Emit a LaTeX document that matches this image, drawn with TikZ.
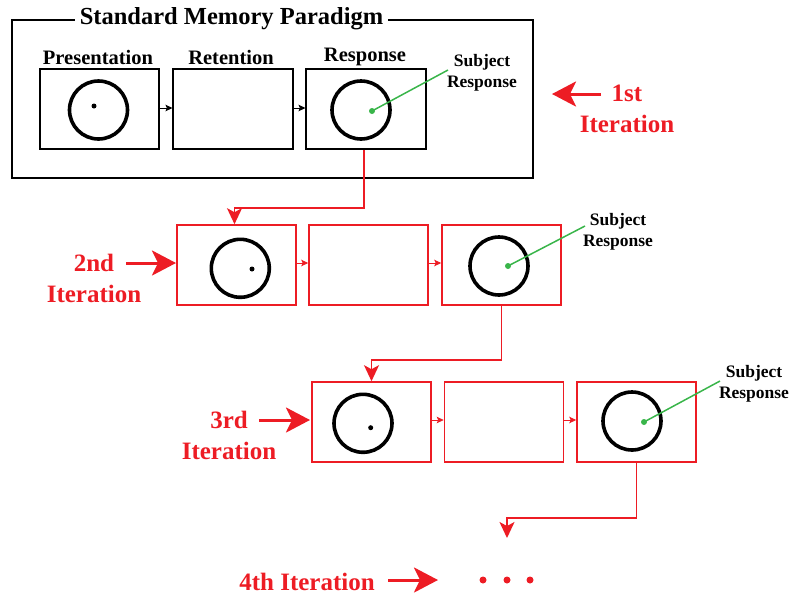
\documentclass[tikz,border=0pt]{standalone}
\usepackage{fontspec}
\setmainfont{Liberation Serif}
\usetikzlibrary{arrows.meta,calc}
\definecolor{myred}{RGB}{237,28,36}
\definecolor{mygreen}{RGB}{57,181,74}
\tikzset{
  bbox/.style={draw=black,line width=1.6pt,minimum width=119.5pt,minimum height=80pt,inner sep=0pt},
  rbox/.style={draw=myred,line width=1.6pt,minimum width=119pt,minimum height=80pt,inner sep=0pt},
  ring/.style={circle,draw=black,line width=3.6pt,minimum size=58pt,inner sep=0pt},
  dotb/.style={circle,fill=black,minimum size=5pt,inner sep=0pt},
  dotg/.style={circle,fill=mygreen,minimum size=6pt,inner sep=0pt},
  lbl/.style={font=\fontsize{20.5}{22}\selectfont\bfseries,inner sep=0pt},
  subj/.style={font=\fontsize{17.5}{21.5}\selectfont\bfseries,align=center,inner sep=0pt},
  iter/.style={font=\fontsize{25}{31}\selectfont\bfseries,text=myred,align=center,inner sep=0pt},
  smallarr/.style={line width=0.8pt,-{Stealth[length=7pt,width=6.5pt,inset=1.5pt]}},
  redconn/.style={draw=myred,line width=1.6pt,-{Stealth[length=16pt,width=15pt,inset=4pt]}},
  bigarr/.style={draw=myred,line width=3pt,-{Stealth[length=24pt,width=25pt,inset=6pt]}},
  gline/.style={draw=mygreen,line width=1.5pt}
}
\begin{document}
\begin{tikzpicture}[x=1pt,y=-1pt]
\useasboundingbox (0,0) rectangle (792,598);
% outer frame
\node[draw=black,line width=1.8pt,minimum width=521pt,minimum height=158pt,inner sep=0pt] (frame) at (272.5,99) {};
\node[lbl,font=\fontsize{24.5}{26}\selectfont\bfseries,fill=white,inner xsep=5pt,inner ysep=2pt] (title) at (231.5,19) {Standard Memory Paradigm};
% row 1
\node[bbox] (P1) at (99.5,109) {};
\node[bbox] (R1) at (233,109) {};
\node[bbox] (S1) at (366,109) {};
\node[lbl] (lP) at (98,57) {Presentation};
\node[lbl] (lR) at (231,57) {Retention};
\node[lbl] (lS) at (365,57) {Response};
\node[ring] (c1a) at (98.5,110) {};
\node[dotb] (d1a) at (94,106) {};
\node[ring] (c1b) at (361,110) {};
\node[dotg] (d1b) at (372,111) {};
\node[subj] (s1) at (482,73) {Subject\\Response};
\draw[gline] (d1b.center) -- (448,70);
\draw[smallarr] (P1.east |- 0,108) -- (R1.west |- 0,108);
\draw[smallarr] (R1.east |- 0,108) -- (S1.west |- 0,108);
\node[iter] (it1) at (627,109) {1st\\Iteration};
\draw[bigarr] (601,94) -- (552,94);
% row 2
\node[rbox] (P2) at (236.5,265) {};
\node[rbox] (R2) at (368.5,265) {};
\node[rbox] (S2) at (501.5,265) {};
\node[ring] (c2a) at (240.3,268.3) {};
\node[dotb] (d2a) at (252,269) {};
\node[ring] (c2b) at (499,266) {};
\node[dotg] (d2b) at (508,266) {};
\node[subj] (s2) at (618,232) {Subject\\Response};
\draw[gline] (d2b.center) -- (585,226);
\draw[smallarr,draw=myred] (P2.east |- 0,263) -- (R2.west |- 0,263);
\draw[smallarr,draw=myred] (R2.east |- 0,263) -- (S2.west |- 0,263);
\node[iter] (it2) at (94,278) {2nd\\Iteration};
\draw[bigarr] (126,263) -- (176,263);
\draw[redconn] ([xshift=-2pt]S1.south) -- ++(0,58) -| ([xshift=-2pt]P2.north);
% row 3
\node[rbox] (P3) at (371.5,422) {};
\node[rbox] (R3) at (504,422) {};
\node[rbox] (S3) at (636.5,422) {};
\node[ring] (c3a) at (363,423.3) {};
\node[dotb] (d3a) at (370.7,427.7) {};
\node[ring] (c3b) at (632,421) {};
\node[dotg] (d3b) at (644,422) {};
\node[subj] (s3) at (754,384) {Subject\\Response};
\draw[gline] (d3b.center) -- (720,381);
\draw[smallarr,draw=myred] (P3.east |- 0,420) -- (R3.west |- 0,420);
\draw[smallarr,draw=myred] (R3.east |- 0,420) -- (S3.west |- 0,420);
\node[iter] (it3) at (229,435) {3rd\\Iteration};
\draw[bigarr] (259,420) -- (310,420);
\draw[redconn] (S2.south) -- ++(0,54) -| (P3.north);
% row 4
\coordinate (end4) at (507,538);
\draw[redconn] (S3.south) -- ++(0,55) -| (end4);
\node[iter] (it4) at (307,582) {4th Iteration};
\draw[bigarr] (388,580) -- (438,580);
\node[circle,fill=myred,minimum size=7pt,inner sep=0pt] (e1) at (483,580) {};
\node[circle,fill=myred,minimum size=7pt,inner sep=0pt] (e2) at (507,580) {};
\node[circle,fill=myred,minimum size=7pt,inner sep=0pt] (e3) at (530,580) {};
\end{tikzpicture}
\end{document}
